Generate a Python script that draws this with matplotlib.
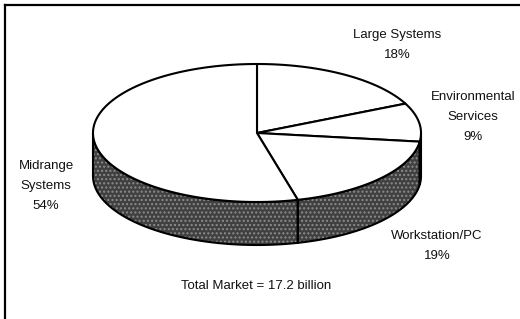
import numpy as np
import matplotlib.pyplot as plt
from matplotlib.patches import Polygon
from matplotlib.lines import Line2D

plt.rcParams['font.family'] = ['Liberation Sans', 'DejaVu Sans']

# Data
categories = ["Large Systems", "Environmental\nServices", "Workstation/PC", "Midrange\nSystems"]
shares = [18, 9, 19, 54]
pct_labels = ["18%", "9%", "19%", "54%"]
total_text = "Total Market = 17.2 billion"

fig = plt.figure(figsize=(5.2, 3.19), dpi=100)
ax = fig.add_axes([0, 0, 1, 1])
ax.set_xlim(0, 520)
ax.set_ylim(319, 0)
ax.axis('off')

# frame
ax.add_line(Line2D([5, 520], [5, 5], color='black', lw=1.6))
ax.add_line(Line2D([5, 5], [5, 319], color='black', lw=1.6))

cx, cy, a, b, depth = 257, 133, 164, 69, 43


def arc(t0, t1, dy=0.0, n=120):
    ts = np.linspace(t0, t1, n)
    r = np.radians(ts)
    return np.column_stack([cx + a * np.cos(r), cy - b * np.sin(r) + dy])


start = 90.0
bounds = []
cum = 0.0
for s in shares:
    t0 = start - cum * 3.6
    t1 = start - (cum + s) * 3.6
    bounds.append((t0, t1))
    cum += s

# sides (front half: angles in [-180, 0])
for t0, t1 in bounds:
    lo, hi = t1, t0
    for shift in (0, -360, 360):
        l2, h2 = max(lo + shift, -180), min(hi + shift, 0)
        if h2 > l2:
            top = arc(l2, h2)
            bot = arc(h2, l2, dy=depth)
            poly = np.vstack([top, bot])
            ax.add_patch(Polygon(poly, closed=True, facecolor='#404040',
                                 edgecolor='#8c8c8c', lw=0, hatch='....', zorder=1))
            ax.add_patch(Polygon(poly, closed=True, facecolor='none',
                                 edgecolor='black', lw=1.5, zorder=2))

# top wedges
for t0, t1 in bounds:
    poly = np.vstack([[cx, cy], arc(t0, t1)])
    ax.add_patch(Polygon(poly, closed=True, facecolor='white',
                         edgecolor='black', lw=1.5, joinstyle='round', zorder=3))

# labels
label_pos = [(397, 45), (473, 117), (437, 246), (46, 186)]
for cat, pct, (x, y) in zip(categories, pct_labels, label_pos):
    ax.text(x, y, cat + "\n" + pct, ha='center', va='center', fontsize=9.5,
            linespacing=1.85, color='#111111')

ax.text(256, 286, total_text, ha='center', va='center', fontsize=9.5, color='#111111')

fig.savefig('out.png', dpi=100)
